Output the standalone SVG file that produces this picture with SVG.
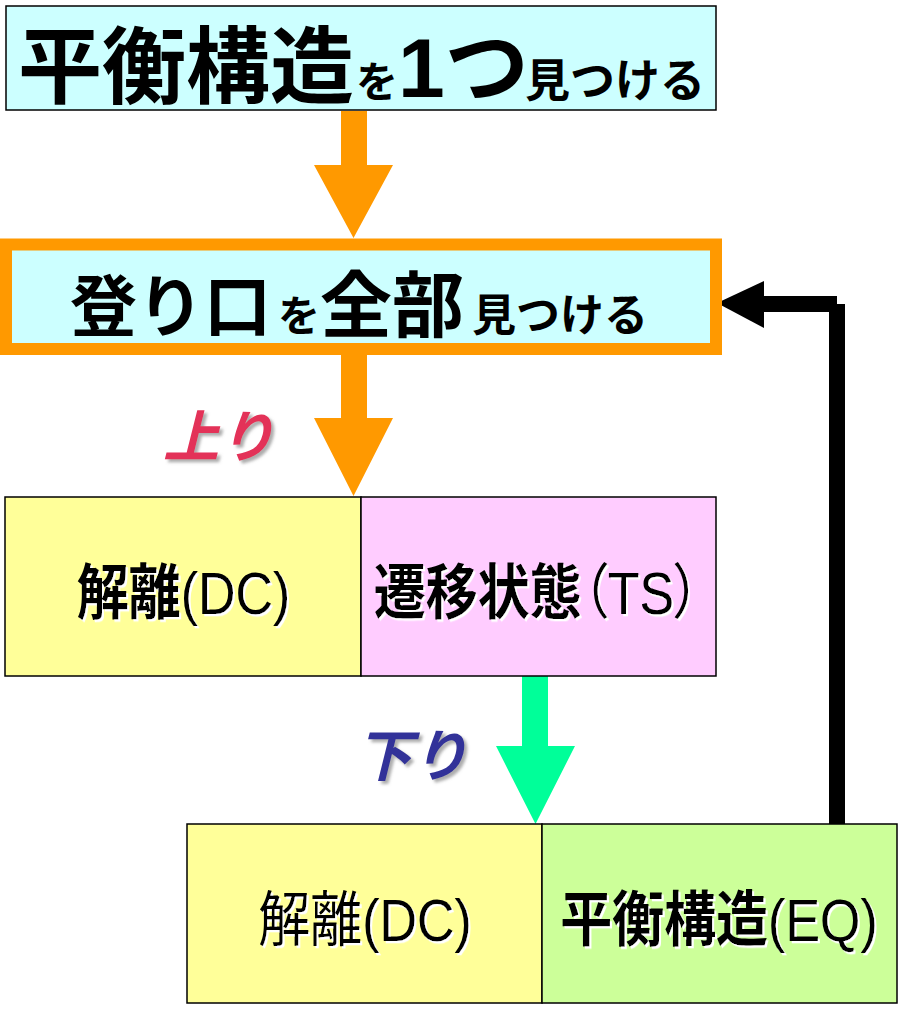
<svg xmlns="http://www.w3.org/2000/svg" width="904" height="1009" viewBox="0 0 904 1009">
<defs>
<style>
.t{font-family:"Liberation Sans","Noto Sans CJK JP",sans-serif;fill:#000}
.b{font-weight:700}
.lat{font-weight:400}
.box{stroke:#000;stroke-width:1.5}
.lbl{font-family:"Noto Sans CJK JP",sans-serif;font-weight:700;font-style:italic;font-size:56px}
</style>
<filter id="ws" x="-10%" y="-20%" width="130%" height="150%">
<feDropShadow dx="2" dy="2" stdDeviation="0.6" flood-color="#ffffff" flood-opacity="1"/>
</filter>
<filter id="gs" x="-10%" y="-20%" width="130%" height="150%">
<feDropShadow dx="3" dy="3" stdDeviation="1.5" flood-color="#777" flood-opacity="0.6"/>
</filter>
</defs>
<rect width="904" height="1009" fill="#fff"/>

<g id="connectors">
<polygon points="341,111 367,111 367,165 393,165 353.5,238 314,165 341,165" fill="#FF9900"/>
<polygon points="341,355 367,355 367,418 393,418 353.5,496 314,418 341,418" fill="#FF9900"/>
<polygon points="522,676 548,676 548,746 575,746 535.5,824 496,746 522,746" fill="#00FF99"/>
<rect x="764" y="296" width="73" height="16" fill="#000"/>
<rect x="829" y="304" width="16" height="520" fill="#000"/>
<polygon points="717,303 764,281 764,328" fill="#000"/>
</g>

<g id="node-find-one">
<rect class="box" x="6" y="6" width="710" height="104" fill="#CCFFFF"/>
<text class="t b" y="97"><tspan x="18" font-size="84">平衡構造</tspan><tspan x="356" font-size="42">を</tspan><tspan x="398" font-size="84">1つ</tspan><tspan x="525" font-size="45">見つける</tspan></text>
</g>

<g id="node-find-all">
<rect x="6" y="244.5" width="710" height="104.5" fill="#CCFFFF" stroke="#FF9900" stroke-width="12"/>
<text class="t b" y="331"><tspan x="70" font-size="67">登り口</tspan><tspan x="278" font-size="42">を</tspan><tspan x="320" font-size="72">全部</tspan><tspan x="472" font-size="44">見つける</tspan></text>
</g>

<g id="label-up" filter="url(#gs)">
<text class="lbl" x="163" y="457" fill="#E33158">上り</text>
</g>

<g id="node-dc1">
<rect class="box" x="5" y="497" width="356" height="179" fill="#FFFF99"/>
<g transform="translate(183.5,614) scale(1,1.15)" filter="url(#ws)">
<text class="t b" x="0" y="0" font-size="52" text-anchor="middle">解離<tspan class="lat">(DC)</tspan></text>
</g>
</g>

<g id="node-ts">
<rect class="box" x="361" y="497" width="355" height="179" fill="#FFCCFF"/>
<g transform="translate(537,614) scale(1,1.15)" filter="url(#ws)">
<text class="t b" x="0" y="0" font-size="52" text-anchor="middle" style="font-feature-settings:'palt'">遷移状態<tspan class="lat">（TS）</tspan></text>
</g>
</g>

<g id="label-down" filter="url(#gs)">
<text class="lbl" x="356" y="776" fill="#333399">下り</text>
</g>

<g id="node-dc2">
<rect class="box" x="187" y="824" width="355" height="179" fill="#FFFF99"/>
<g transform="translate(365,941) scale(1,1.15)" filter="url(#ws)">
<text class="t lat" x="0" y="0" font-size="52" text-anchor="middle">解離(DC)</text>
</g>
</g>

<g id="node-eq">
<rect class="box" x="542" y="824" width="355" height="179" fill="#CCFF99"/>
<g transform="translate(719,941) scale(1,1.15)" filter="url(#ws)">
<text class="t b" x="0" y="0" font-size="52" text-anchor="middle">平衡構造<tspan class="lat">(EQ)</tspan></text>
</g>
</g>
</svg>
